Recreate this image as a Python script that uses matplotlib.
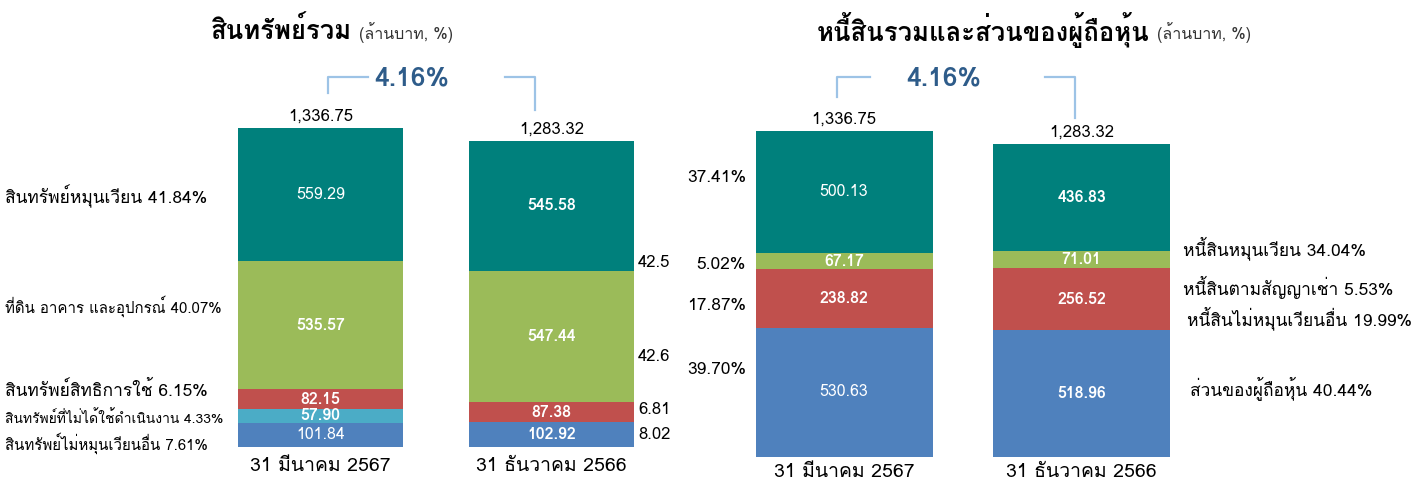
import matplotlib
matplotlib.use("Agg")
import matplotlib.pyplot as plt
from matplotlib import font_manager
from matplotlib.ft2font import FT2Font

# ---------------- data ----------------
dates = ["31 มีนาคม 2567", "31 ธันวาคม 2566"]
totals = [1336.75, 1283.32]
growth_label = "4.16%"

# assets (bottom -> top)
asset_other_noncurrent = [101.84, 102.92]
asset_nonoperating = [57.90, 0.0]
asset_right_of_use = [82.15, 87.38]
asset_ppe = [535.57, 547.44]
asset_current = [559.29, 545.58]

asset_labels = ["สินทรัพย์หมุนเวียน 41.84%", "ที่ดิน อาคาร และอุปกรณ์ 40.07%",
                "สินทรัพย์สิทธิการใช้ 6.15%", "สินทรัพย์ที่ไม่ได้ใช้ดำเนินงาน 4.33%",
                "สินทรัพย์ไม่หมุนเวียนอื่น 7.61%"]
asset_right_pcts = ["42.5", "42.6", "6.81", "8.02"]

# liabilities & equity (bottom -> top)
equity = [530.63, 518.96]
liab_other_noncurrent = [238.82, 256.52]
liab_lease = [67.17, 71.01]
liab_current = [500.13, 436.83]

liab_left_pcts = ["37.41%", "5.02%", "17.87%", "39.70%"]
liab_labels = ["หนี้สินหมุนเวียน 34.04%", "หนี้สินตามสัญญาเช่า 5.53%",
               "หนี้สินไม่หมุนเวียนอื่น 19.99%", "ส่วนของผู้ถือหุ้น 40.44%"]

# ---------------- fonts ----------------
thai_font = None
for f in font_manager.fontManager.ttflist:
    try:
        ft = FT2Font(f.fname)
        if ft.get_char_index(0x0E01) and ft.get_char_index(0x0E35):
            thai_font = f.name
            break
    except Exception:
        pass
fams = ([thai_font] if thai_font else []) + ["DejaVu Sans"]
plt.rcParams["font.family"] = fams

TEAL = "#00807C"
GREEN = "#9BBB59"
RED = "#C0504D"
CYAN = "#4BACC6"
BLUE = "#4F81BD"
PCT_BLUE = "#2E5C8A"
BRACKET = "#9DC3E6"

W, H = 1424, 484
fig = plt.figure(figsize=(W / 100, H / 100), dpi=100)


def px_axes(x0, y_bottom, width, height):
    return fig.add_axes([x0 / W, (H - y_bottom) / H, width / W, height / H])


def ftext(x, y, s, **kw):
    fig.text(x / W, (H - y) / H, s, **kw)


def fline(xs, ys):
    fig.add_artist(plt.Line2D([x / W for x in xs], [(H - y) / H for y in ys],
                              color=BRACKET, lw=1.6))


def stack(ax, series, colors, bolds, width):
    bottom = [0.0, 0.0]
    x = [0, 1]
    for vals, c, bl in zip(series, colors, bolds):
        ax.bar(x, vals, width=width, bottom=bottom, color=c, edgecolor="none")
        for i in range(2):
            if vals[i] > 0:
                ax.text(x[i], bottom[i] + vals[i] / 2, f"{vals[i]:.2f}",
                        ha="center", va="center", color="white",
                        fontsize=11.5, fontweight="bold" if bl[i] else "normal")
        bottom = [b + v for b, v in zip(bottom, vals)]
    ax.set_xlim(-0.5, 1.5)
    ax.set_ylim(0, totals[0])
    ax.axis("off")


# ---------------- left panel: assets ----------------
axL = px_axes(320.5 - 115.5, 447, 231 * 2, 319)
stack(axL,
      [asset_other_noncurrent, asset_nonoperating, asset_right_of_use, asset_ppe, asset_current],
      [BLUE, CYAN, RED, GREEN, TEAL],
      [[False, True], [True, True], [True, True], [True, True], [False, True]],
      165 / 231)

# ---------------- right panel: liabilities ----------------
axR = px_axes(844 - 118.75, 457, 237.5 * 2, 326)
stack(axR,
      [equity, liab_other_noncurrent, liab_lease, liab_current],
      [BLUE, RED, GREEN, TEAL],
      [[False, True], [True, True], [True, True], [False, True]],
      177 / 237.5)

for ax in (axL, axR):
    for i in range(2):
        ax.text(i, totals[i] + 14, f"{totals[i]:,.2f}", ha="center", va="bottom",
                fontsize=12, color="black")

# x (date) labels
for s, x in zip(dates, [320.5, 551.5]):
    ftext(x, 466, s, ha="center", va="center", fontsize=14)
for s, x in zip(dates, [844, 1081.5]):
    ftext(x, 472, s, ha="center", va="center", fontsize=14)

# titles
ftext(352, 30, "สินทรัพย์รวม", ha="right", va="center", fontsize=18.5, fontweight="bold")
ftext(359, 33, "(ล้านบาท, %)", ha="left", va="center", fontsize=11.5, color="#333333")
ftext(1150, 30, "หนี้สินรวมและส่วนของผู้ถือหุ้น", ha="right", va="center",
      fontsize=18.5, fontweight="bold")
ftext(1157, 33, "(ล้านบาท, %)", ha="left", va="center", fontsize=11.5, color="#333333")

# growth annotations
ftext(412, 78, growth_label, ha="center", va="center", fontsize=19,
      fontweight="bold", color=PCT_BLUE)
fline([328, 328, 368], [93, 77, 77])
fline([505, 535, 535], [77, 77, 110])
ftext(944, 78, growth_label, ha="center", va="center", fontsize=19,
      fontweight="bold", color=PCT_BLUE)
fline([837, 837, 870], [97, 77, 77])
fline([1045, 1075, 1075], [77, 77, 118])

# left-panel category labels
ftext(5, 196, asset_labels[0], ha="left", va="center", fontsize=12.5)
ftext(5, 306, asset_labels[1], ha="left", va="center", fontsize=10.8)
ftext(5, 390, asset_labels[2], ha="left", va="center", fontsize=12.5)
ftext(5, 418, asset_labels[3], ha="left", va="center", fontsize=10)
ftext(5, 443, asset_labels[4], ha="left", va="center", fontsize=10.8)
for s, y in zip(asset_right_pcts, [263, 357, 410, 435]):
    ftext(638, y, s, ha="left", va="center", fontsize=12)

# right-panel labels
for s, y in zip(liab_left_pcts, [178, 265, 306, 370]):
    ftext(746, y, s, ha="right", va="center", fontsize=12.5)
for s, x, y in zip(liab_labels, [1183, 1183, 1187, 1190], [248, 287, 318, 388]):
    ftext(x, y, s, ha="left", va="center", fontsize=12.5)

fig.savefig("out.png", dpi=100, facecolor="white")
